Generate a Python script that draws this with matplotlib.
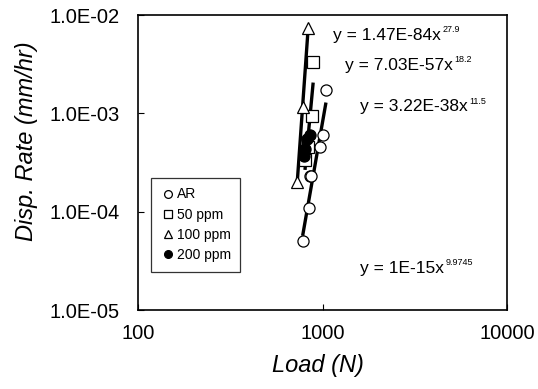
#!/usr/bin/env python3
"""Displacement rate vs load (log-log) with power-law trend lines."""

import numpy as np
import matplotlib
matplotlib.use("Agg")
import matplotlib.pyplot as plt
from matplotlib.ticker import FuncFormatter, NullLocator

# data
ar_load = [783, 845, 855, 870, 969, 1006, 1040]
ar_rate = [5.0e-5, 1.08e-4, 2.3e-4, 2.3e-4, 4.6e-4, 6.1e-4, 1.74e-3]

ppm50_load = [805, 835, 877, 888]
ppm50_rate = [3.4e-4, 4.6e-4, 9.5e-4, 3.3e-3]

ppm100_load = [728, 783, 834]
ppm100_rate = [2.0e-4, 1.17e-3, 7.4e-3]

ppm200_load = [790, 805, 825, 850]
ppm200_rate = [3.7e-4, 4.3e-4, 5.5e-4, 6.1e-4]

series_labels = ["AR", "50 ppm", "100 ppm", "200 ppm"]
eq_bases = ["y = 1.47E-84x", "y = 7.03E-57x", "y = 3.22E-38x", "y = 1E-15x"]
eq_powers = ["27.9", "18.2", "11.5", "9.9745"]

plt.rcParams["font.family"] = ["Liberation Sans", "DejaVu Sans"]

fig = plt.figure(figsize=(5.38, 3.89), dpi=100)
ax = fig.add_axes([0.2565, 0.203, 0.686, 0.758])

styles = [
    dict(marker="o", mfc="white"),
    dict(marker="s", mfc="white"),
    dict(marker="^", mfc="white"),
    dict(marker="o", mfc="black"),
]
groups = [
    (ar_load, ar_rate),
    (ppm50_load, ppm50_rate),
    (ppm100_load, ppm100_rate),
    (ppm200_load, ppm200_rate),
]

for (xs, ys), st, label in zip(groups, styles, series_labels):
    # power-law trend line, fitted like a spreadsheet trendline
    k, b = np.polyfit(np.log10(xs), np.log10(ys), 1)
    xe = np.array([min(xs), max(xs)])
    ax.plot(xe, 10 ** (b + k * np.log10(xe)), color="black", lw=2.4, zorder=2)
    ax.plot(xs, ys, linestyle="none", marker=st["marker"], mfc=st["mfc"],
            mec="black", mew=0.9, ms=8, label=label, zorder=3)

ax.set_xscale("log")
ax.set_yscale("log")
ax.set_xlim(100, 10000)
ax.set_ylim(1e-5, 1e-2)
ax.set_xticks([100, 1000, 10000])
ax.set_yticks([1e-5, 1e-4, 1e-3, 1e-2])
ax.xaxis.set_minor_locator(NullLocator())
ax.yaxis.set_minor_locator(NullLocator())
ax.xaxis.set_major_formatter(FuncFormatter(lambda v, p: f"{v:.0f}"))
ax.yaxis.set_major_formatter(FuncFormatter(lambda v, p: f"{v:.1E}"))
ax.tick_params(direction="in", length=4, labelsize=14.5)
ax.tick_params(axis="y", pad=13)
ax.tick_params(axis="x", pad=10)
for s in ax.spines.values():
    s.set_linewidth(1.2)

ax.set_xlabel("Load (N)", fontsize=17, style="italic")
ax.set_ylabel("Disp. Rate (mm/hr)", fontsize=17, style="italic")
ax.xaxis.set_label_coords(0.488, -0.15)
ax.yaxis.set_label_coords(-0.27, 0.571)

eq_pos = [(0.528, 0.932), (0.561, 0.831), (0.602, 0.689), (0.602, 0.142)]
for base, power, (ex, ey) in zip(eq_bases, eq_powers, eq_pos):
    t = ax.text(ex, ey, base, transform=ax.transAxes, fontsize=12.5,
                va="center", ha="left")
    ax.annotate(power, xy=(1.0, 0.85), xycoords=t, fontsize=6.5,
                ha="left", va="center", xytext=(1, 0), textcoords="offset points")

leg = ax.legend(loc="upper left", bbox_to_anchor=(0.035, 0.449),
                borderaxespad=0, frameon=True, fancybox=False, fontsize=10,
                handlelength=1.0, handletextpad=0.15, markerscale=0.7,
                borderpad=0.7, labelspacing=0.45)
leg.get_frame().set_edgecolor("black")
leg.get_frame().set_linewidth(0.9)

fig.savefig("out.png", dpi=100)
